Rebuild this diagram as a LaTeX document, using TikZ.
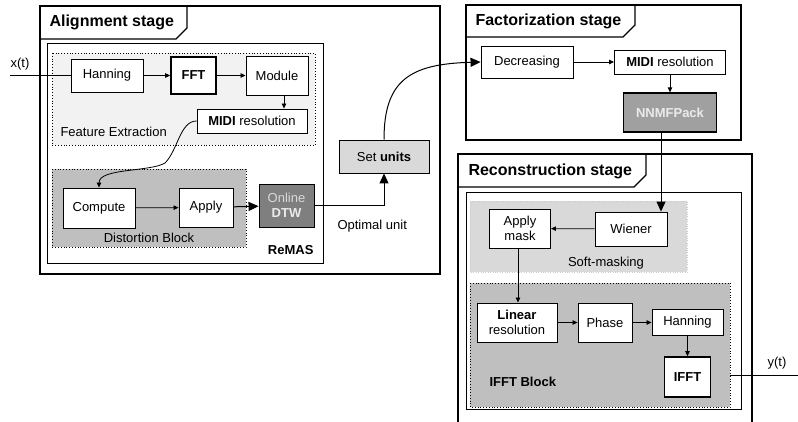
\documentclass[tikz,border=0pt]{standalone}
\usepackage{fontspec}
\setmainfont{Liberation Sans}
\usetikzlibrary{arrows.meta}

\definecolor{featgray}{HTML}{F2F2F2}
\definecolor{midgray}{HTML}{BFBFBF}
\definecolor{lightgray}{HTML}{D9D9D9}
\definecolor{dtwgray}{HTML}{7F7F7F}
\definecolor{nmfgray}{HTML}{A0A0A0}

\begin{document}
\begin{tikzpicture}[x=1pt, y=-1pt,
		font=\fontsize{13}{15}\selectfont,
		blk/.style={draw, fill=white, line width=0.9pt, inner sep=0pt, align=center},
		thickblk/.style={blk, line width=1.6pt, font=\fontsize{13}{15}\selectfont\bfseries},
		title/.style={anchor=west, font=\fontsize{16}{18}\selectfont\bfseries},
		stagebox/.style={line width=1.3pt},
		groupbox/.style={dotted, line width=0.8pt},
		arr/.style={-{Triangle[length=5pt,width=4.5pt]}, line width=0.8pt},
		bigarr/.style={-{Triangle[length=10pt,width=9pt]}, line width=1pt}]
		\useasboundingbox (0,0) rectangle (798,421);
		\clip (0,0) rectangle (798,421);

		% Alignment stage
		\draw[stagebox, fill=white] (40,6) rectangle (440,274);
		\draw[stagebox] (40,6) -- (187,6) -- (187,28) -- (176,39) -- (40,39);
		\node[title] at (46,22) {Alignment stage};
		\draw[line width=1pt] (47,43) rectangle (323,263);                          % ReMAS
		\draw[groupbox, fill=featgray] (52,53) rectangle (315,145);                 % feature extraction
		\draw[groupbox, fill=midgray] (52,169) rectangle (246,247);                 % distortion block
		\node[anchor=west] at (57,132) {Feature Extraction};
		\node at (149,238) {Distortion Block};
		\node[anchor=east, font=\fontsize{13}{15}\selectfont\bfseries] at (317,250) {ReMAS};

		\node[blk, minimum width=72, minimum height=33] (hann1) at (107,75.5) {Hanning};
		\node[thickblk, minimum width=45, minimum height=37] (fft) at (193.5,75.5) {FFT};
		\node[blk, minimum width=62, minimum height=39] (module) at (277,75.5) {Module};
		\node[blk, minimum width=110, minimum height=24] (midi1) at (252,121) {\textbf{MIDI} resolution};
		\node[blk, minimum width=72, minimum height=40] (compute) at (99,208) {Compute};
		\node[blk, minimum width=54, minimum height=39] (apply) at (206,207.5) {Apply};
		\node[blk, fill=dtwgray, minimum width=55, minimum height=43] (dtw) at (286.5,205.5)
			{\textcolor{lightgray}{Online}\\\textcolor{white!92!black}{\textbf{DTW}}};
		\node[blk, fill=lightgray, minimum width=90, minimum height=33] (setu) at (384,156.5) {Set \textbf{units}};
		\node[anchor=west] at (334,226) {Optimal unit};

		% Factorization stage
		\draw[stagebox, fill=white] (466,5) rectangle (741,140);
		\draw[stagebox] (466,5) -- (635,5) -- (635,25) -- (623,37) -- (466,37);
		\node[title] at (472,21) {Factorization stage};
		\node[blk, minimum width=92, minimum height=32] (dec) at (527,62) {Decreasing};
		\node[blk, minimum width=111, minimum height=24] (midi2) at (670,62) {\textbf{MIDI} resolution};
		\node[blk, line width=1.3pt, fill=nmfgray, minimum width=93, minimum height=39,
			font=\fontsize{13}{15}\selectfont\bfseries, text=white!92!black] (nnmf) at (670,112.5) {NNMFPack};

		% Reconstruction stage
		\draw[stagebox, fill=white] (458,154) rectangle (752,440);
		\draw[stagebox] (458,154) -- (646,154) -- (646,175) -- (634,187) -- (458,187);
		\node[title] at (465,171) {Reconstruction stage};
		\draw[line width=1pt] (466,192) rectangle (741,409);
		\draw[dotted, draw=white!80!black, fill=lightgray] (470,201) rectangle (687,272);   % soft-masking
		\draw[groupbox, fill=midgray] (470,283) rectangle (730,407);                         % IFFT block
		\node at (606,263) {Soft-masking};
		\node[anchor=west, font=\fontsize{13}{15}\selectfont\bfseries] at (486,382) {IFFT Block};

		\node[blk, minimum width=72, minimum height=34] (wiener) at (631,229) {Wiener};
		\node[blk, minimum width=61, minimum height=39] (mask) at (520,228.5) {Apply\\mask};
		\node[blk, minimum width=80, minimum height=39] (linres) at (517,322.5) {\textbf{Linear}\\resolution};
		\node[blk, minimum width=54, minimum height=39] (phase) at (605,322.5) {Phase};
		\node[blk, minimum width=71, minimum height=26] (hann2) at (687.5,322.5) {Hanning};
		\node[thickblk, minimum width=46, minimum height=40] (ifft) at (687.5,377) {IFFT};

		% Signals in and out
		\coordinate (xin) at (10,75.5);
		\coordinate (yo) at (730,375);
		\coordinate (yout) at (803,375);
		\node (xlbl) at (20,64) {x(t)};
		\node (ylbl) at (777,363) {y(t)};

		% Connections
		\draw[line width=0.8pt] (xin) -- (hann1);
		\draw[arr] (hann1) -- (fft);
		\draw[arr] (fft) -- (module);
		\draw[arr] ([xshift=7pt]module.south) -- ([xshift=7pt]module.south |- midi1.north);
		\draw[arr] (midi1.west) .. controls (180,121) and (178,150) .. (165,163)
			.. controls (150,172) and (99,168) .. (compute.north);                  % to distortion block
		\draw[arr] (compute) -- (apply);
		\draw[bigarr] (apply) -- (dtw);
		\draw[bigarr] (dtw.east) -| (setu.south);
		\draw[bigarr] (setu.north) .. controls (384,80) and (410,64) .. (dec.west);
		\draw[arr] (dec) -- (midi2);
		\draw[arr] (midi2) -- (nnmf);
		\draw[bigarr] ([xshift=-9pt]nnmf.south) -- ([xshift=-9pt]nnmf.south |- wiener.north);
		\draw[arr] (wiener) -- (mask);
		\draw[arr] ([xshift=-2pt]mask.south) -- ([xshift=-2pt]mask.south |- linres.north);
		\draw[arr] (linres) -- (phase);
		\draw[arr] (phase) -- (hann2);
		\draw[arr] (hann2) -- (ifft);
		\draw[arr] (yo) -- (yout);
	\end{tikzpicture}
\end{document}
